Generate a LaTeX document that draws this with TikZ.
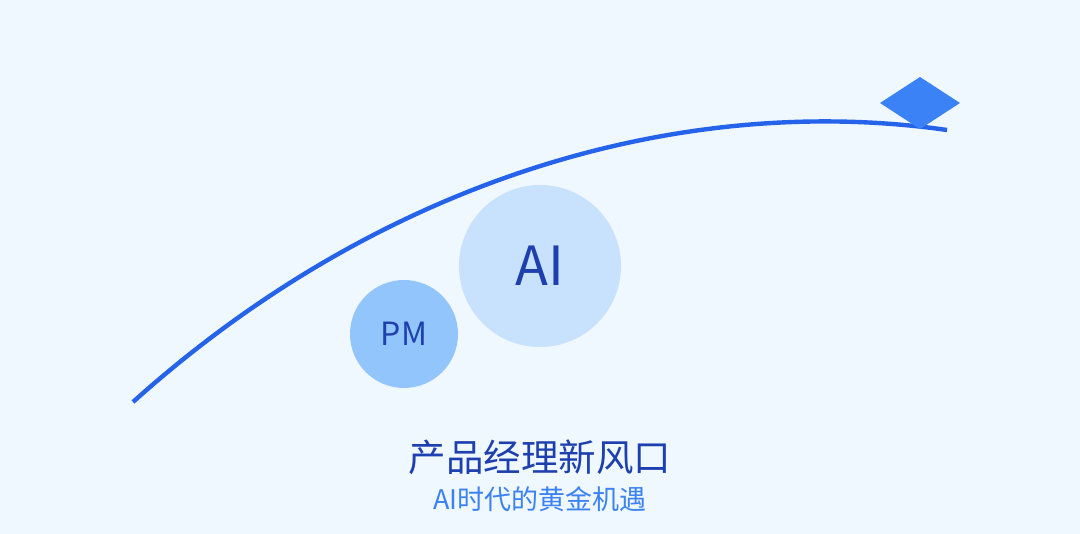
\documentclass[tikz,border=0pt]{standalone}
\usepackage{fontspec}
\setmainfont{Noto Sans CJK SC}
\newfontfamily\cjk{Noto Sans CJK SC}
\definecolor{bgc}{HTML}{EFF7FF}
\definecolor{curvec}{HTML}{2563EB}
\definecolor{diac}{HTML}{3B82F6}
\definecolor{pmc}{HTML}{93C5FD}
\definecolor{aic}{HTML}{C8E1FD}
\definecolor{darkt}{HTML}{1E40AF}
\definecolor{subt}{HTML}{3B82F6}
\begin{document}
\begin{tikzpicture}[x=1pt,y=-1pt,
  bubble/.style={circle,inner sep=0pt,draw=none},
  lbl/.style={font=\cjk,inner sep=0pt}]
\fill[bgc] (0,0) rectangle (1080,534);
\useasboundingbox (0,0) rectangle (1080,534);
\coordinate (s) at (133,402);
\coordinate (e) at (947,130);
\draw[curvec,line width=4.4pt,line cap=butt] (s) .. controls (380,180) and (680,92) .. (e);
\fill[diac] (880,103) -- (920,77) -- (960,103) -- (920,129) -- cycle;
\node[bubble,fill=aic,minimum size=162pt] (ai) at (540,266) {};
\node[lbl,text=darkt,font=\cjk\fontsize{54}{54}\selectfont] at (ai.center) {AI};
\node[bubble,fill=pmc,minimum size=108pt] (pm) at (404,334) {};
\node[lbl,text=darkt,font=\cjk\fontsize{32}{32}\selectfont] at (pm.center) {PM};
\node[lbl,text=darkt,font=\cjk\fontsize{37.5}{37.5}\selectfont] (t1) at (540,457) {产品经理新风口};
\node[lbl,text=subt,font=\cjk\fontsize{27}{27}\selectfont] (t2) at (540,499) {AI时代的黄金机遇};
\end{tikzpicture}
\end{document}
